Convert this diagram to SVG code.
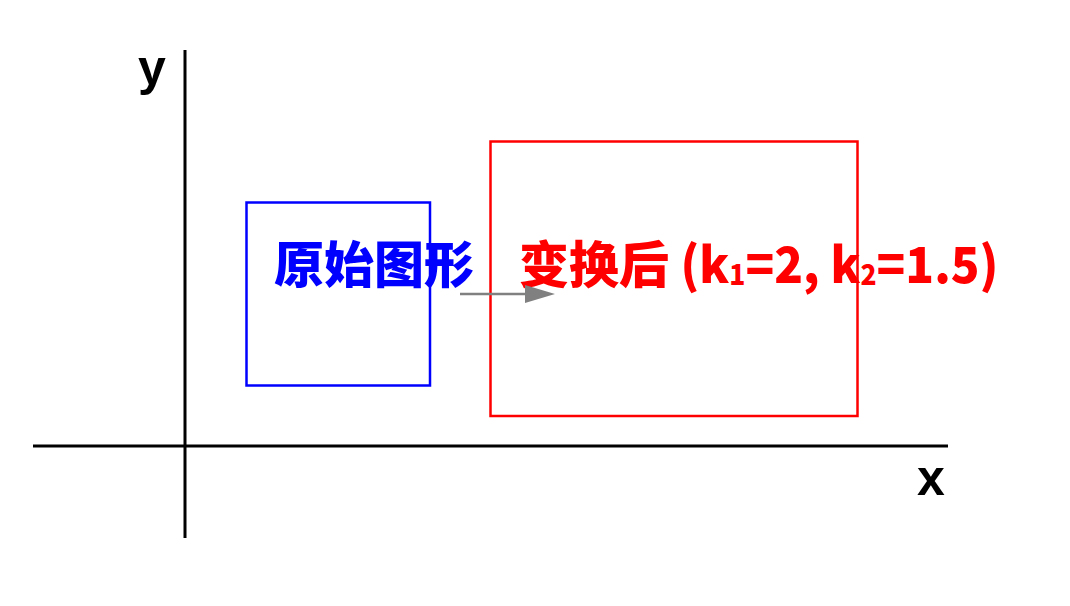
<svg xmlns="http://www.w3.org/2000/svg" width="1070" height="606" viewBox="0 0 1070 606">
<defs>
<style>
.axis{stroke:#000;stroke-width:3;fill:none}
.lbl{font-family:"Liberation Sans","Noto Sans CJK SC",sans-serif;font-weight:bold;font-size:50px}
.cjk{font-family:"Noto Sans CJK SC","Liberation Sans",sans-serif;font-weight:900;font-size:50px}
</style>
</defs>
<rect width="1070" height="606" fill="#fff"/>
<g id="axes">
<line class="axis" x1="185" y1="50" x2="185" y2="538"/>
<line class="axis" x1="33" y1="446" x2="948" y2="446"/>
<text class="lbl" x="152" y="85" text-anchor="middle">y</text>
<text class="lbl" x="931" y="495" text-anchor="middle">x</text>
</g>
<g id="original">
<rect x="246.5" y="202.5" width="183.5" height="183" fill="none" stroke="#0000ff" stroke-width="2.5"/>
<text class="cjk" x="374" y="283" text-anchor="middle" fill="#0000ff">原始图形</text>
</g>
<g id="transformed">
<rect x="490.5" y="141.5" width="367" height="274.5" fill="none" stroke="#ff0000" stroke-width="2.5"/>
<text class="cjk" x="519" y="283" fill="#ff0000">变换后 <tspan textLength="318" lengthAdjust="spacingAndGlyphs">(k<tspan font-size="28" dy="2">1</tspan><tspan dy="-2">=2, k</tspan><tspan font-size="28" dy="2">2</tspan><tspan dy="-2">=1.5)</tspan></tspan></text>
</g>
<g id="connectors">
<line x1="460" y1="294" x2="530" y2="294" stroke="#808080" stroke-width="2.5"/>
<path d="M525,285 L555,294 L525,303 Z" fill="#808080"/>
</g>
</svg>
